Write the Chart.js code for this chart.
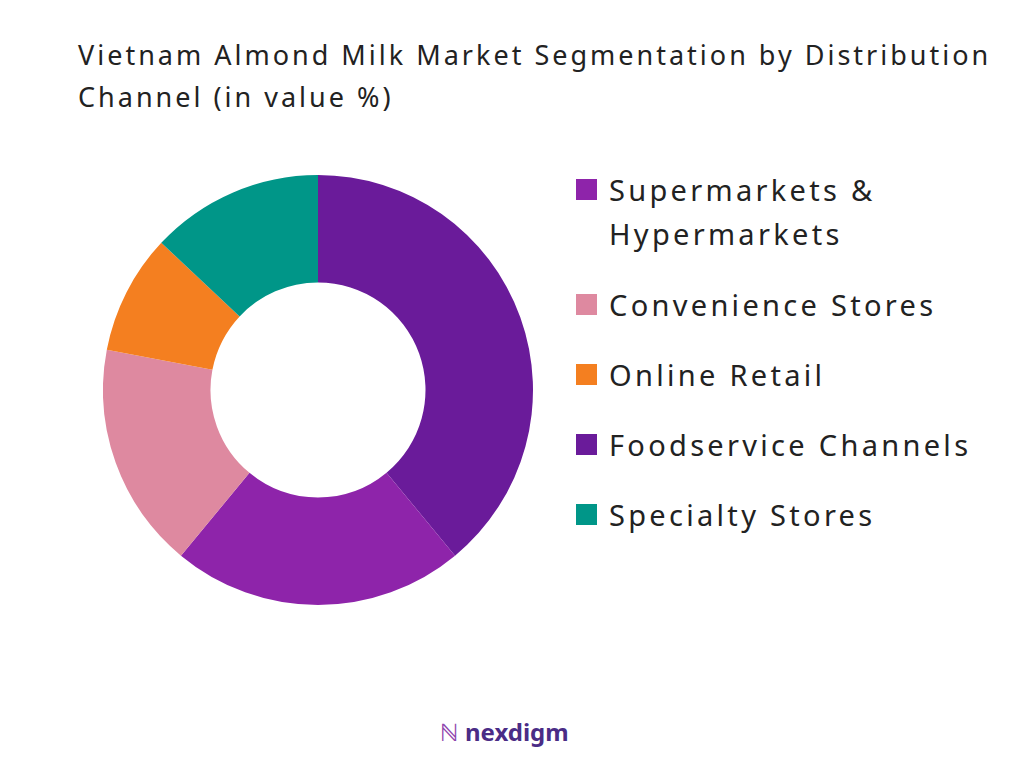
<!DOCTYPE html>
<html><head><meta charset="utf-8">
<script src="https://cdn.jsdelivr.net/npm/chart.js@4/dist/chart.umd.min.js"></script>
<style>
body{margin:0;width:1024px;height:768px;background:#fff;font-family:"Noto Sans",sans-serif;position:relative;overflow:hidden}
#title{position:absolute;left:78px;top:34px;font-size:27px;line-height:42px;color:#222;letter-spacing:3px}
#wrap{position:absolute;left:103px;top:175px;width:430px;height:430px}
#legend{position:absolute;left:576px;top:168px;font-size:29px;color:#222;letter-spacing:3.3px}
.item{position:absolute;display:flex;white-space:nowrap;line-height:44px}
.box{width:21px;height:21px;margin-top:11px;margin-right:12px;flex:none}
#logo{position:absolute;left:440px;top:715px;font-size:24px;font-weight:bold;color:#4a2c86}
</style></head><body>
<div id="title">Vietnam Almond Milk Market Segmentation by Distribution<br>Channel (in value %)</div>
<div id="wrap"><canvas id="c"></canvas></div>
<div id="legend"></div>
<div id="logo"><span style="color:#8e44ad">ℕ</span> nexdigm</div>
<script>
const legendLabels=["Supermarkets & Hypermarkets","Convenience Stores","Online Retail","Foodservice Channels","Specialty Stores"];
const legendLines=[["Supermarkets &","Hypermarkets"],["Convenience Stores"],["Online Retail"],["Foodservice Channels"],["Specialty Stores"]];
const legendColors=["#8e24aa","#de89a0","#f47f20","#6a1b9a","#009688"];
const drawLabels=["Foodservice Channels","Supermarkets & Hypermarkets","Convenience Stores","Online Retail","Specialty Stores"];
const drawValues=[39,22,17,9,13];
const drawColors=["#6a1b9a","#8e24aa","#de89a0","#f47f20","#009688"];
new Chart(document.getElementById('c'),{type:'doughnut',
data:{labels:drawLabels,datasets:[{data:drawValues,backgroundColor:drawColors,borderWidth:0}]},
options:{responsive:true,maintainAspectRatio:false,animation:false,cutout:'50%',layout:{padding:0},
plugins:{legend:{display:false},tooltip:{enabled:false}}}});
const tops=[0,115,185,255,325];
const lg=document.getElementById('legend');
legendLabels.forEach((l,i)=>{const d=document.createElement('div');d.className='item';d.style.top=tops[i]+'px';
d.innerHTML='<div class="box" style="background:'+legendColors[i]+'"></div><div>'+legendLines[i].join('<br>').replace('&','&amp;')+'</div>';lg.appendChild(d);});
</script></body></html>
